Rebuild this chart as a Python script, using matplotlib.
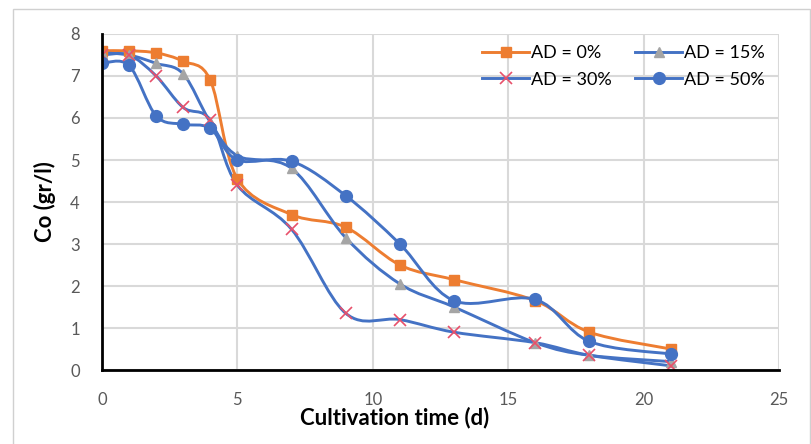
import numpy as np
import matplotlib
matplotlib.use('Agg')
from matplotlib import pyplot as plt
from matplotlib.path import Path
from matplotlib.patches import PathPatch, Rectangle
from matplotlib.lines import Line2D

plt.rcParams['font.family'] = ['Lato', 'DejaVu Sans']

# data
days = [0, 1, 2, 3, 4, 5, 7, 9, 11, 13, 16, 18, 21]
ad_0 = [7.6, 7.6, 7.55, 7.35, 6.9, 4.55, 3.7, 3.4, 2.5, 2.15, 1.65, 0.9, 0.5]
ad_15 = [7.55, 7.5, 7.3, 7.05, 5.9, 5.1, 4.8, 3.15, 2.05, 1.5, 0.65, 0.35, 0.2]
ad_30 = [7.5, 7.5, 7.0, 6.25, 5.95, 4.4, 3.35, 1.35, 1.2, 0.9, 0.65, 0.35, 0.1]
ad_50 = [7.3, 7.25, 6.05, 5.85, 5.75, 5.0, 4.97, 4.15, 3.0, 1.65, 1.68, 0.68, 0.38]
labels = ['AD = 0%', 'AD = 15%', 'AD = 30%', 'AD = 50%']

orange = '#ED7D31'
blue = '#4472C4'
grey = '#A5A5A5'
red = '#E8506A'


# Excel-style smoothed line: bezier through the points
def smooth_path(x, y):
    pts = np.column_stack([x, y]).astype(float)
    verts = [pts[0]]
    codes = [Path.MOVETO]
    n = len(pts)
    for i in range(n - 1):
        p0 = pts[i - 1] if i > 0 else pts[i]
        p1 = pts[i]
        p2 = pts[i + 1]
        p3 = pts[i + 2] if i + 2 < n else pts[i + 1]
        c1 = p1 + (p2 - p0) / 6.0
        c2 = p2 - (p3 - p1) / 6.0
        verts += [c1, c2, p2]
        codes += [Path.CURVE4] * 3
    return Path(verts, codes)


fig = plt.figure(figsize=(8.12, 4.44), dpi=100)
ax = fig.add_axes([102 / 812, 1 - 370 / 444, 677 / 812, 336 / 444])

# outer chart border
fig.patches.append(Rectangle((13 / 812, -0.1), (810 - 13) / 812, 1.1 - 9 / 444,
                             transform=fig.transFigure, fill=False,
                             edgecolor='#D0D0D0', linewidth=1))

series = [
    (ad_0, orange, 's', orange, 6.5, 1),
    (ad_15, blue, '^', grey, 7, 1),
    (ad_30, blue, 'x', red, 8, 1.2),
    (ad_50, blue, 'o', blue, 8.5, 1),
]

handles = []
for (vals, lc, mk, mc, ms, mew), lab in zip(series, labels):
    patch = PathPatch(smooth_path(days, vals), facecolor='none', edgecolor=lc,
                      linewidth=2.1, capstyle='round', joinstyle='round')
    ax.add_patch(patch)
    ax.plot(days, vals, linestyle='none', marker=mk, color=mc,
            markersize=ms, markeredgewidth=mew)
    handles.append(Line2D([], [], color=lc, linewidth=2.1, marker=mk,
                          markerfacecolor=mc, markeredgecolor=mc,
                          markersize=ms, markeredgewidth=mew))

ax.set_xlim(0, 25)
ax.set_ylim(0, 8)
ax.set_xticks(range(0, 26, 5))
ax.set_yticks(range(0, 9))
ax.grid(True, color='#D9D9D9', linewidth=1.5)
ax.set_axisbelow(True)

for s in ['top', 'right']:
    ax.spines[s].set_visible(False)
for s in ['left', 'bottom']:
    ax.spines[s].set_color('black')
    ax.spines[s].set_linewidth(2)

ax.tick_params(axis='both', length=0, labelsize=12, labelcolor='#595959')
ax.tick_params(axis='x', pad=16)
ax.tick_params(axis='y', pad=16)

fig.text(395 / 812, 1 - 418 / 444, 'Cultivation time (d)', ha='center',
         va='center', fontsize=16, fontweight='bold')
fig.text(45 / 812, 1 - 202 / 444, 'Co (gr/l)', ha='center', va='center',
         rotation=90, fontsize=16, fontweight='bold')

# row-wise legend order like the original
order = [0, 2, 1, 3]
ax.legend([handles[i] for i in order], [labels[i] for i in order], ncol=2,
          loc='upper right', bbox_to_anchor=(0.995, 1.0), frameon=False,
          fontsize=13, handlelength=2.6, columnspacing=1.3,
          handletextpad=0.1, labelspacing=0.6, borderaxespad=0.2)

fig.savefig('out.png', dpi=100)
